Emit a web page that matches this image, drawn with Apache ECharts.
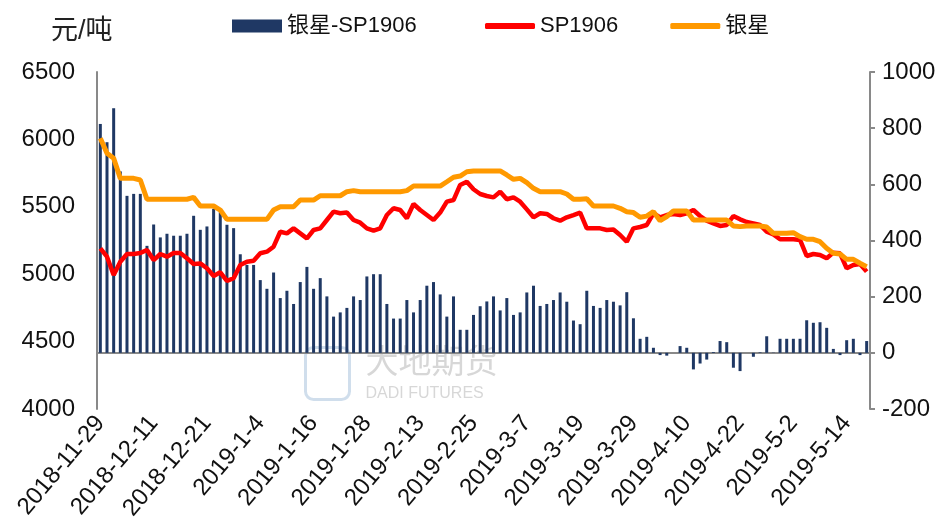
<!DOCTYPE html>
<html>
<head>
<meta charset="utf-8">
<title>银星-SP1906</title>
<script src="https://cdn.jsdelivr.net/npm/echarts@6/dist/echarts.min.js"></script>
<style>
    html, body { margin: 0; padding: 0; background: #fff; }
    #echarts { width: 949px; height: 532px; }
</style>
</head>
<body>
<div id="echarts"></div>
<script>
// 日期（交易日）
var dateList = [
    '2018-11-29', '2018-11-30', '2018-12-3', '2018-12-4', '2018-12-5', '2018-12-6', '2018-12-7', '2018-12-10',
    '2018-12-11', '2018-12-12', '2018-12-13', '2018-12-14', '2018-12-17', '2018-12-18', '2018-12-19', '2018-12-20',
    '2018-12-21', '2018-12-24', '2018-12-25', '2018-12-26', '2018-12-27', '2018-12-28', '2019-1-2', '2019-1-3',
    '2019-1-4', '2019-1-7', '2019-1-8', '2019-1-9', '2019-1-10', '2019-1-11', '2019-1-14', '2019-1-15',
    '2019-1-16', '2019-1-17', '2019-1-18', '2019-1-21', '2019-1-22', '2019-1-23', '2019-1-24', '2019-1-25',
    '2019-1-28', '2019-1-29', '2019-1-30', '2019-1-31', '2019-2-1', '2019-2-2', '2019-2-11', '2019-2-12',
    '2019-2-13', '2019-2-14', '2019-2-15', '2019-2-18', '2019-2-19', '2019-2-20', '2019-2-21', '2019-2-22',
    '2019-2-25', '2019-2-26', '2019-2-27', '2019-2-28', '2019-3-1', '2019-3-4', '2019-3-5', '2019-3-6',
    '2019-3-7', '2019-3-8', '2019-3-11', '2019-3-12', '2019-3-13', '2019-3-14', '2019-3-15', '2019-3-18',
    '2019-3-19', '2019-3-20', '2019-3-21', '2019-3-22', '2019-3-25', '2019-3-26', '2019-3-27', '2019-3-28',
    '2019-3-29', '2019-4-1', '2019-4-2', '2019-4-3', '2019-4-4', '2019-4-5', '2019-4-8', '2019-4-9',
    '2019-4-10', '2019-4-11', '2019-4-12', '2019-4-15', '2019-4-16', '2019-4-17', '2019-4-18', '2019-4-19',
    '2019-4-22', '2019-4-23', '2019-4-24', '2019-4-25', '2019-4-26', '2019-4-28', '2019-4-29', '2019-4-30',
    '2019-5-2', '2019-5-5', '2019-5-6', '2019-5-7', '2019-5-8', '2019-5-9', '2019-5-10', '2019-5-13',
    '2019-5-14', '2019-5-15', '2019-5-16', '2019-5-17'
];

// 银星现货价格（左轴）
var yinxing = [
    6008, 5897, 5860, 5711, 5711, 5711, 5699, 5556, 5556, 5556, 5556, 5556, 5556, 5556, 5570, 5506,
    5506, 5506, 5476, 5407, 5407, 5407, 5407, 5407, 5407, 5407, 5476, 5501, 5501, 5501, 5550, 5550,
    5550, 5582, 5582, 5582, 5582, 5612, 5620, 5612, 5612, 5612, 5612, 5612, 5612, 5612, 5620, 5654,
    5654, 5654, 5654, 5654, 5686, 5719, 5728, 5760, 5766, 5766, 5766, 5766, 5766, 5736, 5704, 5711,
    5679, 5637, 5612, 5612, 5612, 5612, 5595, 5556, 5556, 5560, 5506, 5506, 5506, 5506, 5489, 5464,
    5457, 5422, 5431, 5464, 5397, 5427, 5469, 5469, 5469, 5402, 5402, 5402, 5402, 5402, 5402, 5358,
    5353, 5358, 5358, 5358, 5350, 5303, 5303, 5303, 5308, 5279, 5259, 5259, 5241, 5192, 5155, 5150,
    5110, 5110, 5081, 5056
];

// SP1906 期货价格（左轴）
var sp1906 = [
    5192, 5130, 4994, 5093, 5150, 5150, 5157, 5180, 5105, 5150, 5130, 5157, 5157, 5118, 5076, 5080,
    5044, 4987, 5014, 4950, 4970, 5068, 5093, 5100, 5155, 5167, 5204, 5315, 5303, 5340, 5303, 5266,
    5328, 5340, 5402, 5464, 5452, 5457, 5402, 5382, 5340, 5323, 5340, 5439, 5489, 5476, 5415, 5521,
    5476, 5439, 5402, 5457, 5538, 5550, 5662, 5686, 5630, 5595, 5580, 5570, 5612, 5556, 5570, 5538,
    5481, 5422, 5452, 5447, 5415, 5397, 5422, 5439, 5457, 5340, 5340, 5340, 5328, 5332, 5291, 5241,
    5340, 5350, 5365, 5452, 5422, 5439, 5447, 5439, 5452, 5476, 5432, 5397, 5377, 5358, 5365, 5432,
    5407, 5387, 5377, 5365, 5315, 5295, 5259, 5259, 5259, 5254, 5135, 5150, 5143, 5118, 5160, 5155,
    5044, 5068, 5076, 5019
];

// 基差 银星-SP1906（右轴）
var spread = [
    815, 750, 871, 646, 559, 566, 566, 381, 457, 411, 424, 417, 417, 424, 488, 438,
    450, 513, 501, 456, 444, 351, 313, 313, 259, 228, 286, 195, 221, 174, 252, 306,
    228, 266, 201, 129, 144, 160, 201, 188, 272, 280, 280, 174, 122, 122, 188, 144,
    188, 239, 252, 208, 129, 201, 82, 82, 135, 166, 183, 201, 151, 195, 135, 144,
    215, 239, 167, 174, 188, 215, 182, 115, 102, 221, 167, 160, 188, 182, 169, 216,
    123, 50, 57, 18, -8, -10, 0, 24, 18, -59, -38, -24, 3, 42, 38, -53,
    -65, 0, -14, 2, 59, 1, 50, 50, 50, 50, 116, 107, 109, 89, 14, -8,
    45, 50, -8, 42
];

// 坐标轴刻度
var leftTicks = [4000, 4500, 5000, 5500, 6000, 6500];
var rightTicks = [-200, 0, 200, 400, 600, 800, 1000];

var fontFamily = "'Liberation Sans', 'Noto Sans CJK SC', sans-serif";

drawEcharts();

/**
 * 画统计图
 */
function drawEcharts() {
    var chartDom = document.getElementById('echarts');
    var myChart = echarts.init(chartDom, null, { renderer: 'canvas' });
    var option;

    var axisColor = '#898989';
    var legendText = { fontSize: 22, color: '#111', fontFamily: fontFamily };

    option = {
        animation: false,
        color: ['#1f3864', '#ff0000', '#ff9900'],
        textStyle: { fontFamily: fontFamily },
        title: {
            text: '元/吨',
            left: 46,
            top: 13,
            textStyle: { fontSize: 27, fontWeight: 'normal', color: '#222', fontFamily: fontFamily }
        },
        legend: [
            {
                // 柱图图例
                left: 227,
                top: 10,
                itemWidth: 50,
                itemHeight: 13,
                itemGap: 8,
                textStyle: legendText,
                data: [{ name: '银星-SP1906', icon: 'rect' }]
            },
            {
                // 折线图例
                left: 480,
                top: 10,
                itemGap: 52,
                itemWidth: 50,
                itemHeight: 6,
                textStyle: legendText,
                data: [
                    { name: 'SP1906', icon: 'roundRect' },
                    { name: '银星', icon: 'roundRect' }
                ]
            }
        ],
        grid: {
            left: 97,
            right: 79,
            top: 72,
            bottom: 123
        },
        xAxis: [
            {
                type: 'category',
                data: dateList,
                boundaryGap: true,
                axisLine: { lineStyle: { color: axisColor, width: 2 } },
                axisTick: { show: false },
                axisLabel: {
                    interval: 7,
                    rotate: 50,
                    margin: 10,
                    fontSize: 24,
                    color: '#111',
                    fontFamily: fontFamily
                },
                splitLine: { show: false }
            }
        ],
        yAxis: [
            {
                type: 'value',
                position: 'left',
                min: leftTicks[0],
                max: leftTicks[leftTicks.length - 1],
                interval: 500,
                axisLine: { show: true, lineStyle: { color: axisColor, width: 2 } },
                axisTick: { show: false },
                axisLabel: {
                    fontSize: 24, color: '#111', margin: 22, fontFamily: fontFamily,
                    formatter: function (v) { return String(v); }
                },
                splitLine: { show: false }
            },
            {
                type: 'value',
                position: 'right',
                min: rightTicks[0],
                max: rightTicks[rightTicks.length - 1],
                interval: 200,
                axisLine: { show: true, lineStyle: { color: axisColor, width: 2 } },
                axisTick: { show: true, inside: false, length: 5, lineStyle: { color: axisColor, width: 2 } },
                axisLabel: {
                    fontSize: 24, color: '#111', margin: 12, fontFamily: fontFamily,
                    formatter: function (v) { return String(v); }
                },
                splitLine: { show: false }
            }
        ],
        graphic: [
            {
                // 水印
                type: 'group',
                left: 303,
                top: 345,
                silent: true,
                children: [
                    {
                        type: 'rect',
                        shape: { x: 0, y: 0, width: 44, height: 52, r: 8 },
                        style: { fill: 'none', stroke: 'rgba(120,160,200,0.35)', lineWidth: 3 }
                    },
                    {
                        type: 'text',
                        x: 60,
                        y: 0,
                        style: { text: '大地期货', fontSize: 33, fill: 'rgba(140,140,140,0.35)', fontFamily: fontFamily }
                    },
                    {
                        type: 'text',
                        x: 60,
                        y: 38,
                        style: { text: 'DADI FUTURES', fontSize: 16, fill: 'rgba(140,140,140,0.35)', fontFamily: fontFamily }
                    }
                ]
            }
        ],
        series: [
            {
                name: '银星-SP1906',
                type: 'bar',
                yAxisIndex: 1,
                barWidth: '45%',
                itemStyle: { color: '#1f3864' },
                data: spread
            },
            {
                name: 'SP1906',
                type: 'line',
                yAxisIndex: 0,
                symbol: 'none',
                lineStyle: { width: 4.5, color: '#ff0000' },
                itemStyle: { color: '#ff0000' },
                z: 3,
                data: sp1906
            },
            {
                name: '银星',
                type: 'line',
                yAxisIndex: 0,
                symbol: 'none',
                lineStyle: { width: 5, color: '#ff9900' },
                itemStyle: { color: '#ff9900' },
                z: 4,
                data: yinxing
            }
        ]
    };

    option && myChart.setOption(option);

    window.addEventListener('resize', function () {
        myChart.resize();
    });
}
</script>
</body>
</html>
